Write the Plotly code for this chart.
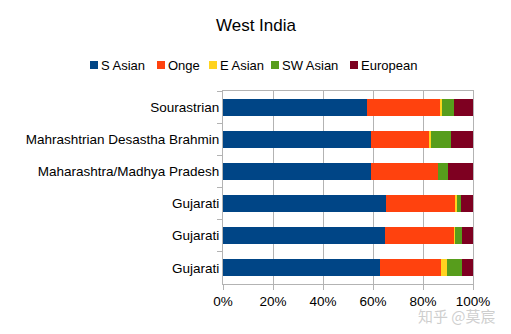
import plotly.graph_objects as go

categories = ["Sourastrian", "Mahrashtrian Desastha Brahmin", "Maharashtra/Madhya Pradesh",
              "Gujarati", "Gujarati\u200b", "Gujarati\u200b\u200b"]
series_names = ["S Asian", "Onge", "E Asian", "SW Asian", "European"]
s_asian = [57.5, 59.2, 59.2, 65.1, 64.7, 62.8]
onge = [29.3, 23.2, 26.7, 27.8, 27.7, 24.4]
e_asian = [0.8, 0.8, 0.0, 0.8, 0.5, 2.4]
sw_asian = [4.8, 8.0, 4.1, 1.4, 2.8, 6.0]
european = [7.6, 8.8, 10.0, 4.9, 4.3, 4.4]
colors = ["#004586", "#ff420e", "#ffd320", "#579d1c", "#7e0021"]
legend_left_px = [90, 157, 209, 271, 350]

values = [s_asian, onge, e_asian, sw_asian, european]

fig = go.Figure()
for name, vals, col in zip(series_names, values, colors):
    fig.add_trace(go.Bar(
        y=categories, x=[v / 100 for v in vals], name=name, orientation="h",
        marker=dict(color=col, line=dict(width=0)), showlegend=False,
    ))

font_family = "Liberation Sans, Arial, sans-serif"
L, R, T, B, W, H = 223, 38, 91, 50, 511, 334
fig.update_layout(
    width=W, height=H,
    barmode="stack", bargap=0.47,
    paper_bgcolor="white", plot_bgcolor="white",
    margin=dict(l=L, r=R, t=T, b=B, autoexpand=False),
    font=dict(family=font_family, size=13, color="#000000"),
    title=dict(text="West India", x=256 / W, xref="container", y=1 - 25 / H,
               yref="container", yanchor="middle", xanchor="center",
               font=dict(size=17, family=font_family, color="#000000")),
    showlegend=False,
    xaxis=dict(range=[0, 1], tickformat=".0%", dtick=0.2, tick0=0,
               showgrid=True, gridcolor="#b3b3b3", gridwidth=1,
               showline=True, linecolor="#b3b3b3", linewidth=1, mirror=True,
               ticks="outside", ticklen=5, tickcolor="#b3b3b3",
               tickfont=dict(size=13.5),
               zeroline=False, fixedrange=True),
    yaxis=dict(categoryorder="array", categoryarray=categories, autorange="reversed",
               tickson="boundaries", ticks="outside", ticklen=5, tickcolor="#b3b3b3",
               tickfont=dict(size=13.5),
               showline=True, linecolor="#b3b3b3", linewidth=1, mirror=True,
               showgrid=False, fixedrange=True),
)

pw = W - L - R
ph = H - T - B


def px_x(p):
    return (p - L) / pw


def px_y(p):
    return 1 + (T - p) / ph


for name, col, px in zip(series_names, colors, legend_left_px):
    fig.add_shape(type="rect", xref="paper", yref="paper",
                  x0=px_x(px), x1=px_x(px + 8), y0=px_y(69), y1=px_y(61),
                  fillcolor=col, line=dict(width=0))
    fig.add_annotation(
        text=name, xref="paper", yref="paper", x=px_x(px + 10), y=px_y(65),
        xanchor="left", yanchor="middle", showarrow=False, borderpad=0,
        font=dict(family=font_family, size=13, color="#000000"),
    )

fig.add_annotation(text="知乎 @莫宸", xref="paper", yref="paper", x=1.1, y=-0.1,
                   xanchor="right", yanchor="top", showarrow=False,
                   font=dict(family="Noto Sans CJK SC", size=15, color="rgba(190,190,190,0.75)"))

fig.write_html("out.html")
